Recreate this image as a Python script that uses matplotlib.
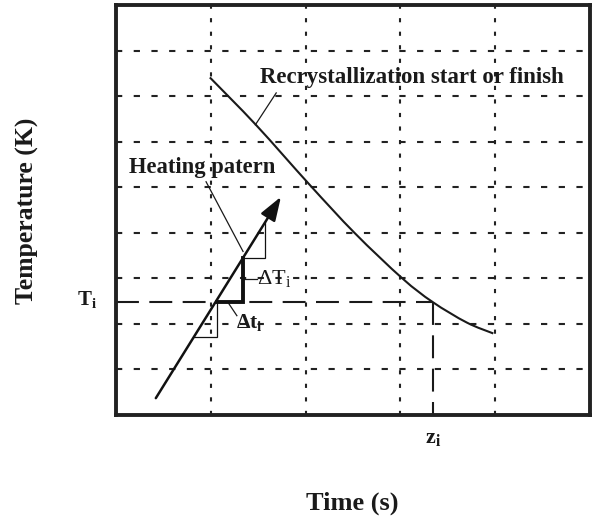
import matplotlib
matplotlib.use("Agg")
import matplotlib.pyplot as plt
from matplotlib.path import Path
from matplotlib.patches import PathPatch

plt.rcParams['font.family'] = ['Liberation Serif', 'DejaVu Serif']
plt.rcParams['mathtext.fontset'] = 'custom'
plt.rcParams['mathtext.rm'] = 'Liberation Serif'
plt.rcParams['mathtext.bf'] = 'Liberation Serif:bold'

# Recrystallization start/finish curve (time, temperature), arbitrary units
curve_t = [0.99, 1.48, 2.04, 2.52, 3.02, 3.34, 3.70, 3.98]
curve_T = [7.41, 6.36, 5.06, 3.99, 3.00, 2.48, 2.03, 1.79]

# Heating path: start point and arrow tip
heat_t = [0.42, 1.74]
heat_T = [0.37, 4.79]

# Staircase approximation of the heating path
step_t = [0.82, 1.064, 1.337, 1.572]

# Intersection of the isothermal line with the curve
T_i = 2.48
z_i = 3.34

# Grid divisions
x_grid = [1, 2, 3, 4]
y_grid = [1, 2, 3, 4, 5, 6, 7, 8]

INK = '#1a1a1a'


def smooth_path(xs, ys):
    """Catmull-Rom curve through the points, expressed as cubic Bezier segments."""
    pts = list(zip(xs, ys))
    n = len(pts)
    verts = [pts[0]]
    codes = [Path.MOVETO]
    for i in range(n - 1):
        p0 = pts[i - 1] if i > 0 else pts[i]
        p1 = pts[i]
        p2 = pts[i + 1]
        p3 = pts[i + 2] if i + 2 < n else pts[i + 1]
        c1 = (p1[0] + (p2[0] - p0[0]) / 6, p1[1] + (p2[1] - p0[1]) / 6)
        c2 = (p2[0] - (p3[0] - p1[0]) / 6, p2[1] - (p3[1] - p1[1]) / 6)
        verts += [c1, c2, p2]
        codes += [Path.CURVE4] * 3
    return Path(verts, codes)


fig = plt.figure(figsize=(5.95, 5.21), dpi=100)
ax = fig.add_axes([116 / 595, 1 - 415 / 521, 474 / 595, 410 / 521])
ax.set_xlim(0, 5)
ax.set_ylim(0, 9)
ax.set_xticks([])
ax.set_yticks([])
for s in ax.spines.values():
    s.set_linewidth(2.8)
    s.set_color('#222222')

# dotted grid
for x in x_grid:
    ax.axvline(x, color='#222222', lw=1.5, ls=(0, (2.0, 4.5)), zorder=1)
for y in y_grid:
    ax.axhline(y, color='#222222', lw=1.5, ls=(0, (3.0, 5.5)), zorder=1)

# recrystallization curve
ax.add_patch(PathPatch(smooth_path(curve_t, curve_T), facecolor='none',
                       edgecolor=INK, lw=1.5, zorder=3))


def heat_line(t):
    return heat_T[0] + (heat_T[1] - heat_T[0]) / (heat_t[1] - heat_t[0]) * (t - heat_t[0])


# heating path with arrow
ax.annotate('', xy=(heat_t[1], heat_T[1]), xytext=(heat_t[0], heat_T[0]),
            arrowprops=dict(arrowstyle='-|>,head_length=1.45,head_width=0.5',
                            color='#111111', lw=1.8, shrinkA=0, shrinkB=0),
            zorder=4)

# staircase
for k in range(len(step_t) - 1):
    t0, t1 = step_t[k], step_t[k + 1]
    y0 = T_i if k == 1 else heat_line(t0)
    y1 = heat_line(t1)
    lw = 2.8 if k == 1 else 0.9
    ax.plot([t0, t1, t1], [y0, y0, y1], color='#111111', lw=lw,
            solid_joinstyle='miter', zorder=3)

# isothermal and time markers
ax.plot([0, z_i], [T_i, T_i], color=INK, lw=1.5, ls=(0, (11, 5)), zorder=2)
ax.plot([z_i, z_i], [T_i, 0], color=INK, lw=1.5, ls=(0, (11, 5)), zorder=2)

# labels with leaders
ax.text(1.52, 7.41, 'Recrystallization start or finish', fontsize=16.5,
        fontweight='bold', ha='left', va='center', color=INK)
ax.plot([1.69, 1.47], [7.07, 6.37], color=INK, lw=0.9)

ax.text(0.14, 5.43, 'Heating patern', fontsize=16.3, fontweight='bold',
        ha='left', va='center', color=INK)
ax.plot([0.95, 1.34], [5.12, 3.59], color=INK, lw=0.9)

ax.plot([1.337, 1.49], [2.98, 2.98], color=INK, lw=0.9)
ax.text(1.49, 2.98, 'ΔT$_\\mathregular{i}$', fontsize=16,
        ha='left', va='center', color=INK)

ax.plot([1.185, 1.275], [2.46, 2.18], color=INK, lw=0.9)
ax.text(1.27, 2.02, 'Δt$_\\mathregular{i}$', fontsize=15.5, fontweight='bold',
        ha='left', va='center', color=INK)

ax.text(-0.2, T_i + 0.05, 'T$_\\mathregular{i}$', fontsize=15,
        ha='right', va='center', color=INK, fontweight='bold')
ax.text(z_i, -0.3, 'z$_\\mathregular{i}$', fontsize=16, fontweight='bold',
        ha='center', va='top', color=INK)

fig.text(352 / 595, 1 - 503 / 521, 'Time (s)', fontsize=19, fontweight='bold',
         ha='center', va='center', color=INK)
fig.text(27 / 595, 1 - 211 / 521, 'Temperature (K)', fontsize=18.5,
         fontweight='bold', ha='center', va='center', rotation=90,
         color=INK)

fig.savefig('out.png', dpi=100)
